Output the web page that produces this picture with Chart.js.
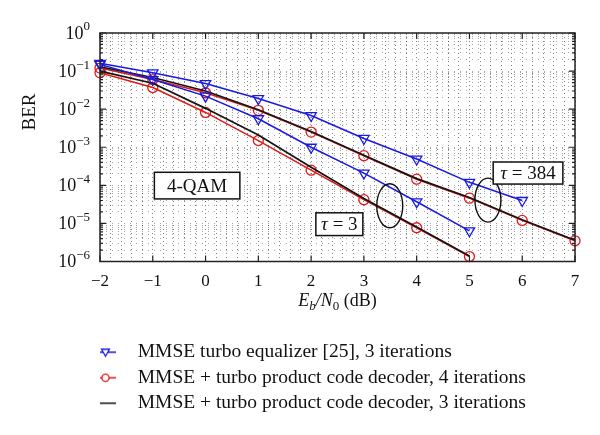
<!DOCTYPE html>
<html>
<head>
<meta charset="utf-8">
<script src="https://cdn.jsdelivr.net/npm/chart.js@4.4.1/dist/chart.umd.min.js"></script>
<style>
  body { margin: 0; background: #fff; }
</style>
</head>
<body>
<canvas id="berChart" width="600" height="435"></canvas>
<script>
// Eb/N0 values (dB)
const snrTau3 = [-2, -1, 0, 1, 2, 3, 4, 5];
const snrTau384Blue = [-2, -1, 0, 1, 2, 3, 4, 5, 6];
const snrTau384 = [-2, -1, 0, 1, 2, 3, 4, 5, 6, 7];

// BER
const blueTau384 = [0.16, 0.09, 0.047, 0.019, 0.0068, 0.0017, 4.9e-4, 1.2e-4, 4.0e-5];
const blueTau3 = [0.15, 0.06, 0.022, 0.0056, 0.001, 2.1e-4, 3.7e-5, 6.4e-6];
const redTau384 = [0.12, 0.06, 0.027, 0.0093, 0.0025, 6.0e-4, 1.45e-4, 4.6e-5, 1.2e-5, 3.5e-6];
const redTau3 = [0.09, 0.037, 0.0082, 0.0015, 2.5e-4, 4.2e-5, 7.7e-6, 1.35e-6];
const blackTau384 = [0.13, 0.068, 0.03, 0.0097, 0.0026, 6.2e-4, 1.5e-4, 4.8e-5, 1.25e-5, 3.6e-6];
const blackTau3 = [0.1, 0.048, 0.0105, 0.0021, 3.0e-4, 4.5e-5, 8.0e-6, 1.4e-6];

const legendLabels = [
    'MMSE turbo equalizer [25], 3 iterations',
    'MMSE + turbo product code decoder, 4 iterations',
    'MMSE + turbo product code decoder, 3 iterations',
];

// grid positions
const xMajor = [-2, -1, 0, 1, 2, 3, 4, 5, 6, 7];
const decades = [-6, -5, -4, -3, -2, -1, 0];

const BLUE = 'rgb(25, 25, 225)';
const RED = 'rgb(225, 25, 25)';
const BLACK = 'rgb(20, 20, 20)';
const FONT = "'Liberation Serif', 'Times New Roman', serif";

function pairs(xs, ys) {
    return ys.map((y, i) => ({x: xs[i], y: y}));
}

let xGrid = [];
for (let i = 0; i < xMajor.length - 1; i++) {
    for (let k = 0; k < 5; k++) xGrid.push(Math.round((xMajor[i] + k * 0.2) * 10) / 10);
}
xGrid.push(xMajor[xMajor.length - 1]);

let yGrid = [];
decades.forEach((e) => {
    if (e === 0) { yGrid.push(1); return; }
    for (let m = 1; m <= 9; m++) yGrid.push(m * Math.pow(10, e));
});

function legendIcon(color, kind) {
    const c = document.createElement('canvas');
    c.width = 44;
    c.height = 20;
    const g = c.getContext('2d');
    g.strokeStyle = color;
    g.lineWidth = 1.5;
    g.beginPath();
    g.moveTo(0, 10);
    g.lineTo(21, 10);
    g.stroke();
    g.lineWidth = 1.3;
    if (kind === 'tri') {
        g.beginPath();
        g.moveTo(6.5, 7);
        g.lineTo(14.5, 7);
        g.lineTo(10.5, 14);
        g.closePath();
        g.fillStyle = '#fff';
        g.fill();
        g.stroke();
    } else if (kind === 'circ') {
        g.beginPath();
        g.arc(10.5, 10, 3.6, 0, Math.PI * 2);
        g.fillStyle = '#fff';
        g.fill();
        g.stroke();
    }
    return c;
}

function lineSet(label, xs, ys, color, style, width) {
    return {
        label: label,
        data: pairs(xs, ys),
        borderColor: color,
        borderWidth: width || 1.5,
        fill: false,
        tension: 0,
        clip: false,
        pointStyle: style || false,
        pointRadius: style ? (style === 'triangle' ? 6 : 5) : 0,
        pointRotation: style === 'triangle' ? 180 : 0,
        pointBorderColor: color,
        pointBorderWidth: 1.3,
        pointBackgroundColor: 'rgba(0,0,0,0)',
    };
}

// index 0 is drawn on top
const datasets = [
    lineSet(legendLabels[0], snrTau384Blue, blueTau384, BLUE, 'triangle'),
    lineSet(legendLabels[0], snrTau3, blueTau3, BLUE, 'triangle'),
    lineSet(legendLabels[2], snrTau384, blackTau384, BLACK, null, 1.7),
    lineSet(legendLabels[2], snrTau3, blackTau3, BLACK, null, 1.7),
    lineSet(legendLabels[1], snrTau384, redTau384, RED, 'circle'),
    lineSet(legendLabels[1], snrTau3, redTau3, RED, 'circle'),
];
const legendIcons = {0: legendIcon(BLUE, 'tri'), 4: legendIcon(RED, 'circ'), 2: legendIcon(BLACK, 'none')};
const legendRank = {0: 0, 4: 1, 2: 2};

// text boxes and ellipses, in data coordinates
const boxes = [
    {x0: -0.97, x1: 0.65, y0: 2.2e-4, y1: 4.4e-5, parts: [['4-QAM', '']]},
    {x0: 2.09, x1: 2.98, y0: 1.9e-5, y1: 4.8e-6, parts: [['\u03c4', 'italic '], [' = 3', '']]},
    {x0: 5.45, x1: 6.77, y0: 4.1e-4, y1: 1.08e-4, parts: [['\u03c4', 'italic '], [' = 384', '']]},
];
const ellipses = [
    {x: 3.49, y: 2.9e-5},
    {x: 5.35, y: 4.1e-5},
];

function drawParts(ctx, parts, x, y, size, align) {
    let total = 0;
    parts.forEach((p) => {
        ctx.font = `${p[1]}${p[2] || size}px ${FONT}`;
        total += ctx.measureText(p[0]).width;
    });
    let cx = x;
    if (align === 'center') cx = x - total / 2;
    if (align === 'right') cx = x - total;
    parts.forEach((p) => {
        ctx.font = `${p[1]}${p[2] || size}px ${FONT}`;
        ctx.fillText(p[0], cx, y + (p[3] || 0));
        cx += ctx.measureText(p[0]).width;
    });
}

const decorations = {
    id: 'decorations',
    afterDatasetsDraw(chart) {
        const ctx = chart.ctx;
        const xs = chart.scales.x;
        const ys = chart.scales.y;
        const area = chart.chartArea;
        ctx.save();
        // frame and inward ticks
        ctx.strokeStyle = '#222';
        ctx.lineWidth = 1.5;
        ctx.strokeRect(area.left, area.top, area.right - area.left, area.bottom - area.top);
        ctx.lineWidth = 1.2;
        ctx.beginPath();
        xMajor.forEach((v) => {
            const px = xs.getPixelForValue(v);
            ctx.moveTo(px, area.bottom); ctx.lineTo(px, area.bottom - 6);
            ctx.moveTo(px, area.top); ctx.lineTo(px, area.top + 6);
        });
        yGrid.forEach((v) => {
            const py = ys.getPixelForValue(v);
            const len = Math.abs(Math.log10(v) - Math.round(Math.log10(v))) < 1e-9 ? 6 : 3;
            ctx.moveTo(area.left, py); ctx.lineTo(area.left + len, py);
            ctx.moveTo(area.right, py); ctx.lineTo(area.right - len, py);
        });
        ctx.stroke();

        // ellipses
        ctx.strokeStyle = '#111';
        ctx.lineWidth = 1.4;
        ellipses.forEach((e) => {
            ctx.beginPath();
            ctx.ellipse(xs.getPixelForValue(e.x), ys.getPixelForValue(e.y), 13, 22, 0, 0, Math.PI * 2);
            ctx.stroke();
        });

        // text boxes
        ctx.textBaseline = 'middle';
        ctx.textAlign = 'left';
        boxes.forEach((b) => {
            const l = xs.getPixelForValue(b.x0);
            const r = xs.getPixelForValue(b.x1);
            const t = ys.getPixelForValue(b.y0);
            const bt = ys.getPixelForValue(b.y1);
            ctx.fillStyle = '#fff';
            ctx.fillRect(l, t, r - l, bt - t);
            ctx.strokeStyle = '#111';
            ctx.lineWidth = 1.5;
            ctx.strokeRect(l, t, r - l, bt - t);
            ctx.fillStyle = '#111';
            drawParts(ctx, b.parts, (l + r) / 2, (t + bt) / 2 + 1, 19, 'center');
        });

        // y tick labels, 10 with a raised exponent
        ctx.fillStyle = '#111';
        decades.forEach((e) => {
            const py = ys.getPixelForValue(Math.pow(10, e));
            const expo = String(e).replace('-', '\u2212');
            drawParts(ctx, [['10', ''], [expo, '', 13, -7]], area.left - 10, py + 1, 18, 'right');
        });

        // axis titles
        ctx.textBaseline = 'alphabetic';
        drawParts(ctx, [['E', 'italic '], ['b', 'italic ', 13, 4], ['/N', 'italic '], ['0', '', 13, 4], [' (dB)', '']],
            (area.left + area.right) / 2, 306, 18, 'center');
        ctx.translate(30, 112);
        ctx.rotate(-Math.PI / 2);
        ctx.textAlign = 'center';
        ctx.textBaseline = 'middle';
        ctx.font = `19px ${FONT}`;
        ctx.fillText('BER', 0, 0);
        ctx.restore();
    }
};

const ctx = document.getElementById('berChart').getContext('2d');
new Chart(ctx, {
    type: 'line',
    data: {datasets: datasets},
    options: {
        responsive: false,
        animation: false,
        layout: {padding: {top: 33, right: 25, left: 0, bottom: 12}},
        scales: {
            x: {
                type: 'linear',
                min: -2,
                max: 7,
                afterBuildTicks: (scale) => { scale.ticks = xGrid.map((v) => ({value: v})); },
                afterFit: (scale) => { scale.height = 75; },
                grid: {color: 'rgba(0,0,0,0.5)', lineWidth: 1, drawTicks: false},
                border: {display: false, dash: [1, 3]},
                ticks: {
                    autoSkip: false,
                    maxRotation: 0,
                    padding: 10,
                    color: '#111',
                    font: {family: FONT, size: 17},
                    callback: (v) => (Math.abs(v - Math.round(v)) < 1e-6 ? String(Math.round(v)).replace('-', '\u2212') : ''),
                },
            },
            y: {
                type: 'logarithmic',
                min: 1e-6,
                max: 1,
                afterBuildTicks: (scale) => { scale.ticks = yGrid.map((v) => ({value: v})); },
                afterFit: (scale) => { scale.width = 100; },
                grid: {color: 'rgba(0,0,0,0.35)', lineWidth: 1, drawTicks: false},
                border: {display: false, dash: [1, 5]},
                ticks: {display: false},
            },
        },
        plugins: {
            tooltip: {enabled: false},
            legend: {
                position: 'bottom',
                align: 'start',
                fullSize: false,
                labels: {
                    usePointStyle: true,
                    pointStyleWidth: 22,
                    padding: 6,
                    color: '#111',
                    font: {family: FONT, size: 19.5},
                    generateLabels: (chart) => {
                        const items = Chart.defaults.plugins.legend.labels.generateLabels(chart);
                        return items
                            .filter((it) => legendIcons[it.datasetIndex])
                            .map((it) => Object.assign(it, {pointStyle: legendIcons[it.datasetIndex], rotation: 0}));
                    },
                    sort: (a, b) => legendRank[a.datasetIndex] - legendRank[b.datasetIndex],
                },
            },
        },
    },
    plugins: [decorations],
});
</script>
</body>
</html>
